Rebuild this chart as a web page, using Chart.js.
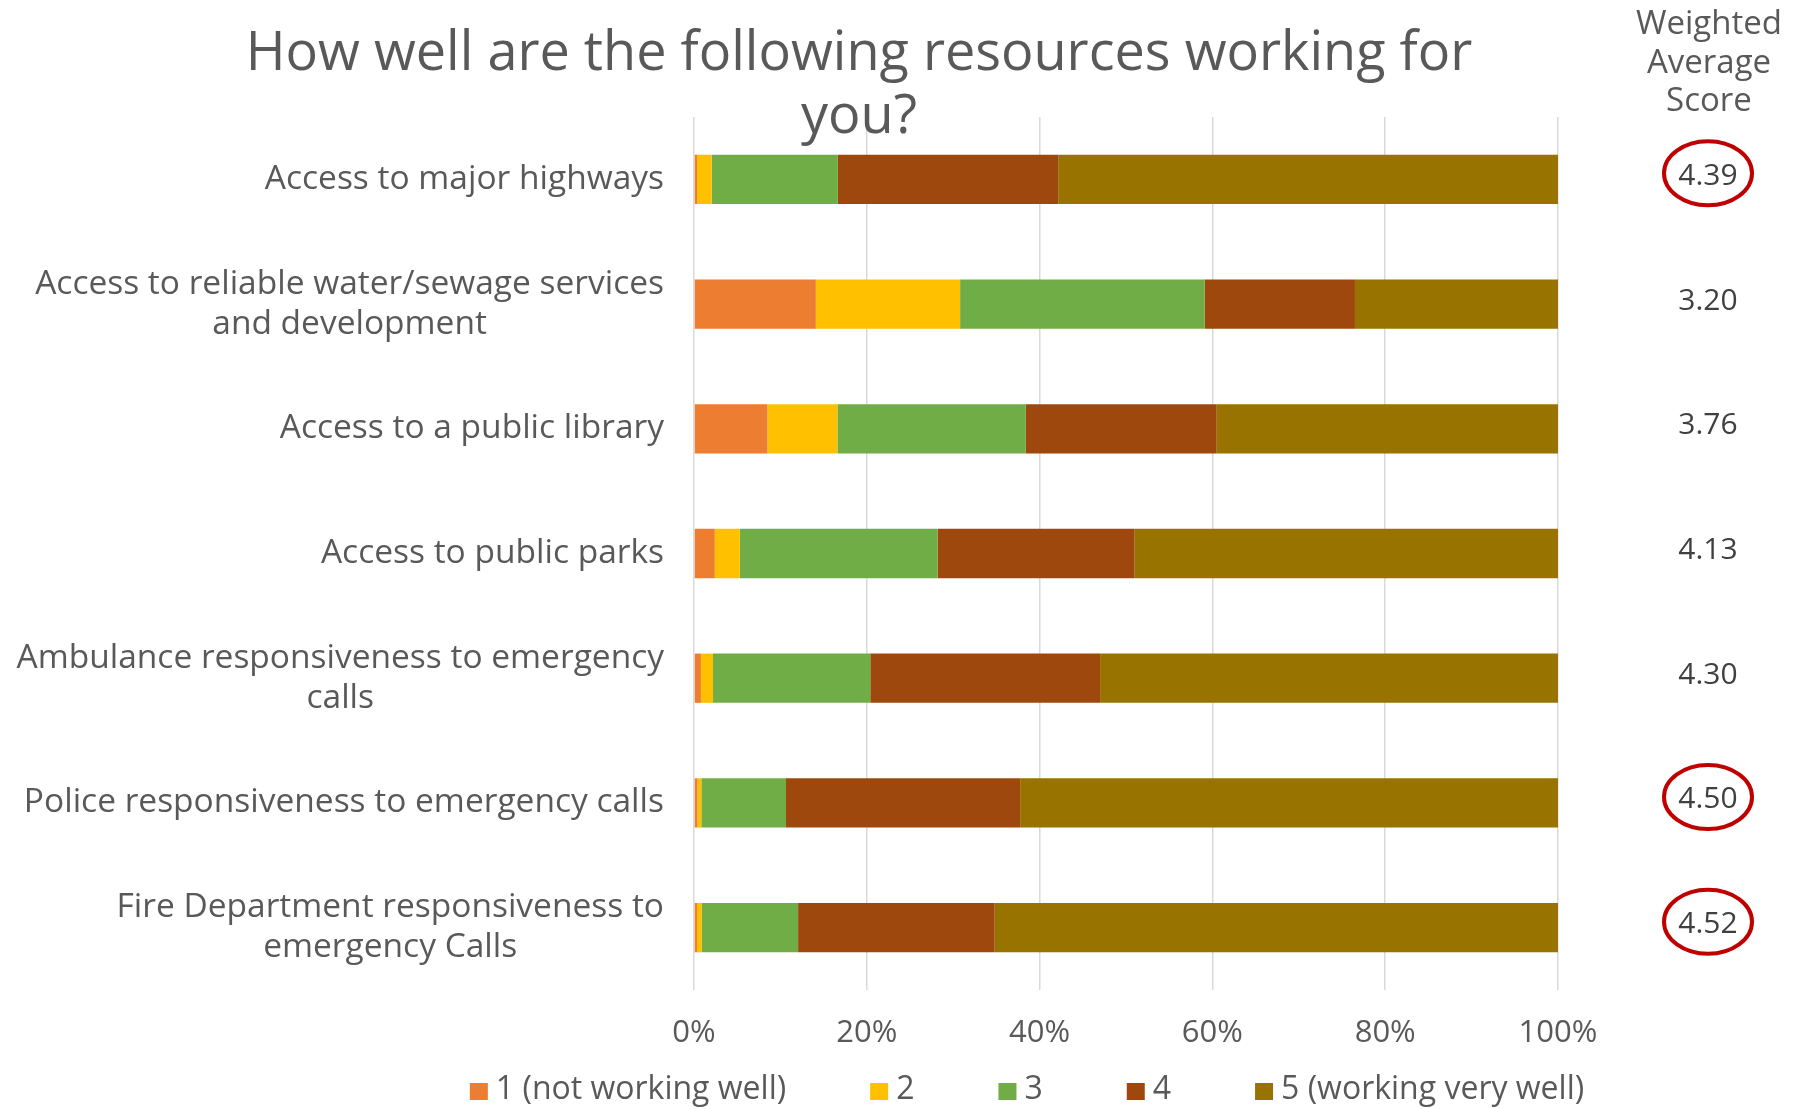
<!DOCTYPE html>
<html>
<head>
<meta charset="utf-8">
<script src="https://cdn.jsdelivr.net/npm/chart.js@4.4.1/dist/chart.umd.min.js"></script>
<style>
  html, body { margin: 0; padding: 0; background: #fff; }
  #wrap { width: 1796px; height: 1109px; }
</style>
</head>
<body>
<div id="wrap"><canvas id="resourcesChart"></canvas></div>
<script>
const FONT = '"Open Sans", sans-serif';

const titleLines = ['How well are the following resources working for', 'you?'];
const scoreHeader = ['Weighted', 'Average', 'Score'];

const categories = [
  ['Access to major highways'],
  ['Access to reliable water/sewage services', 'and development'],
  ['Access to a public library'],
  ['Access to public parks'],
  ['Ambulance responsiveness to emergency', 'calls'],
  ['Police responsiveness to emergency calls'],
  ['Fire Department responsiveness to', 'emergency Calls']
];

// share of responses (%) for each rating
const rating1 = [0.35, 14.1, 8.5, 2.4, 0.8, 0.4, 0.35];
const rating2 = [1.7, 16.7, 8.1, 2.9, 1.4, 0.45, 0.55];
const rating3 = [14.6, 28.3, 21.8, 22.9, 18.2, 9.8, 11.15];
const rating4 = [25.5, 17.4, 22.1, 22.8, 26.6, 27.1, 22.75];
const rating5 = [57.85, 23.5, 39.5, 49.0, 53.0, 62.25, 65.2];

const scores = ['4.39', '3.20', '3.76', '4.13', '4.30', '4.50', '4.52'];
const circled = [true, false, false, false, false, true, true];

const xTicks = [0, 20, 40, 60, 80, 100];
const seriesNames = ['1 (not working well)', '2', '3', '4', '5 (working very well)'];
const seriesColors = ['#ED7D31', '#FFC000', '#70AD47', '#9E480E', '#997300'];

const seriesData = [rating1, rating2, rating3, rating4, rating5];

const extras = {
  id: 'extras',
  afterDraw(chart) {
    const ctx = chart.ctx;
    const yScale = chart.scales.y;
    const area = chart.chartArea;
    ctx.save();
    ctx.textBaseline = 'middle';

    // title
    ctx.fillStyle = '#595959';
    ctx.textAlign = 'center';
    ctx.font = '54px ' + FONT;
    titleLines.forEach((t, i) => ctx.fillText(t, 859, 55 + i * 63));

    // score column header
    ctx.font = '33px ' + FONT;
    scoreHeader.forEach((t, i) => ctx.fillText(t, 1709, 25 + i * 38.5));

    // category labels, each block right aligned, lines centered inside it
    ctx.font = '33.5px ' + FONT;
    categories.forEach((lines, i) => {
      const yc = yScale.getPixelForValue(i);
      const w = Math.max(...lines.map(l => ctx.measureText(l).width));
      const cx = area.left - 30 - w / 2;
      lines.forEach((l, j) => {
        ctx.fillText(l, cx, yc + (j - (lines.length - 1) / 2) * 40);
      });
    });

    // weighted average scores
    ctx.font = '30px ' + FONT;
    ctx.fillStyle = '#404040';
    scores.forEach((s, i) => {
      const yc = yScale.getPixelForValue(i);
      ctx.fillText(s, 1708, yc - 3);
      if (circled[i]) {
        ctx.beginPath();
        ctx.ellipse(1708, yc - 6, 44, 32, 0, 0, Math.PI * 2);
        ctx.lineWidth = 4;
        ctx.strokeStyle = '#C00000';
        ctx.stroke();
      }
    });

    // legend
    ctx.font = '32px ' + FONT;
    ctx.textAlign = 'left';
    const box = 18, gap = 8, spacing = 84;
    const widths = seriesNames.map(n => box + gap + ctx.measureText(n).width);
    const total = widths.reduce((a, b) => a + b, 0) + spacing * (widths.length - 1);
    let x = 1027 - total / 2;
    seriesNames.forEach((n, i) => {
      ctx.fillStyle = seriesColors[i];
      ctx.fillRect(x, 1083, box, 17);
      ctx.fillStyle = '#595959';
      ctx.fillText(n, x + box + gap, 1090);
      x += widths[i] + spacing;
    });
    ctx.restore();
  }
};

new Chart(document.getElementById('resourcesChart'), {
  type: 'bar',
  data: {
    labels: categories.map(c => c.join(' ')),
    datasets: seriesData.map((d, i) => ({
      label: seriesNames[i],
      data: d,
      backgroundColor: seriesColors[i],
      borderWidth: 0,
      categoryPercentage: 1,
      barPercentage: 0.395
    }))
  },
  options: {
    indexAxis: 'y',
    responsive: true,
    maintainAspectRatio: false,
    animation: false,
    layout: { padding: { top: 117, right: 238, bottom: 59, left: 0 } },
    plugins: {
      legend: { display: false },
      title: { display: false },
      tooltip: { enabled: false }
    },
    scales: {
      x: {
        stacked: true,
        min: 0,
        max: 100,
        afterBuildTicks: s => { s.ticks = xTicks.map(v => ({ value: v })); },
        afterFit: s => { s.height = 60; s.paddingLeft = 0; s.paddingRight = 0; },
        grid: { color: '#d9d9d9', lineWidth: 1.5, drawTicks: false },
        border: { display: false },
        ticks: {
          padding: 25,
          color: '#595959',
          font: { family: FONT, size: 31 },
          callback: v => v + '%'
        }
      },
      y: {
        stacked: true,
        afterFit: s => { s.width = 694; },
        grid: { display: false },
        border: { display: false },
        ticks: { display: false }
      }
    }
  },
  plugins: [extras]
});
</script>
</body>
</html>
